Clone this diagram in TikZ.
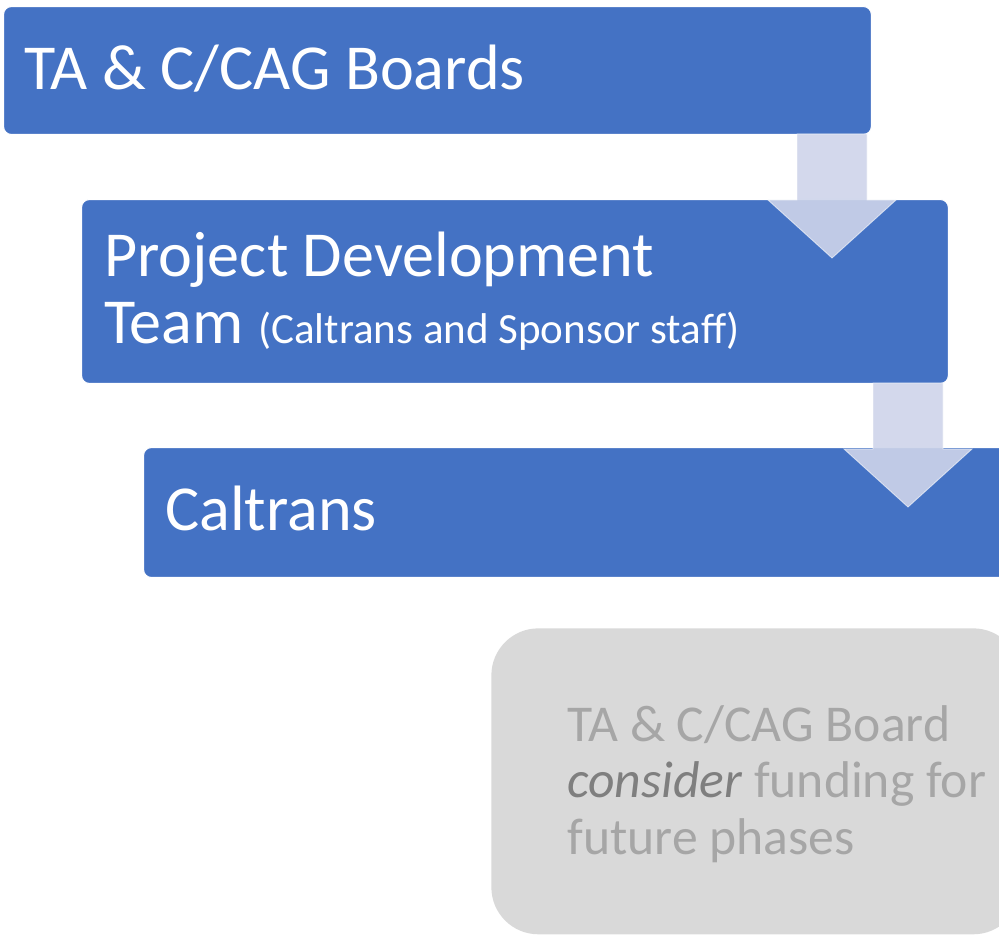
\documentclass[tikz,border=0pt]{standalone}
\usepackage{fontspec}
\setmainfont{Carlito}
\usetikzlibrary{positioning}

\definecolor{boxblue}{RGB}{68,114,196}
\definecolor{arrowfill}{RGB}{206,212,234}
\definecolor{notegray}{RGB}{217,217,217}
\definecolor{notetext}{RGB}{166,166,166}
\definecolor{notedark}{RGB}{127,127,127}

\begin{document}
\begin{tikzpicture}[x=0.02cm, y=-0.02cm,
	stage/.style={draw=white, line width=0.6pt, fill=boxblue, rounded corners=0.16cm, anchor=north west, inner sep=0pt},
	stagetext/.style={text=white, font=\fontsize{36.5}{44}\selectfont, anchor=base west, inner sep=0pt},
	note/.style={fill=notegray, rounded corners=0.94cm, anchor=north west, inner sep=0pt},
	notelabel/.style={text=notetext, font=\fontsize{29.4}{31.9}\selectfont, align=left, anchor=base west, inner sep=0pt},
	downarrow/.style={fill=arrowfill, fill opacity=0.9, draw=white, draw opacity=0.6, line width=0.5pt}]
	
	\useasboundingbox (0,0) rectangle (999,935);
	\clip (0,0) rectangle (999,935);
	
	% the three stages and the note
	\node[stage, minimum width=17.36cm, minimum height=2.56cm] (boards) at (3,6) {};
	\node[stage, minimum width=17.34cm, minimum height=3.68cm] (pdt) at (81,199) {};
	\node[stage, minimum width=17.34cm, minimum height=2.6cm] (caltrans) at (143,447) {};
	\node[note, minimum width=10.58cm, minimum height=6.12cm] (future) at (491,628) {};
	
	% block arrows between the stages
	\foreach \cx/\cy in {832/134, 908/383}
		\draw[downarrow] (\cx-35,\cy) -- (\cx-35,\cy+66) -- (\cx-64,\cy+66) -- (\cx,\cy+124)
			-- (\cx+64,\cy+66) -- (\cx+35,\cy+66) -- (\cx+35,\cy) -- cycle;
	
	% labels
	\node[stagetext] (boardslabel) at (24,90) {TA \& C/CAG Boards};
	\node[stagetext] (pdtlabel) at (104,277) {Project Development};
	\node[stagetext] (teamlabel) at (104,343) {Team {\fontsize{24.5}{30}\selectfont (Caltrans and Sponsor staff)}};
	\node[stagetext] (caltranslabel) at (165,530) {Caltrans};
	% base of a multi-line node sits on its last line
	\node[notelabel] (futurelabel) at (567,854) {TA \& C/CAG Board\\\textit{\color{notedark}consider} funding for\\future phases};
\end{tikzpicture}
\end{document}
